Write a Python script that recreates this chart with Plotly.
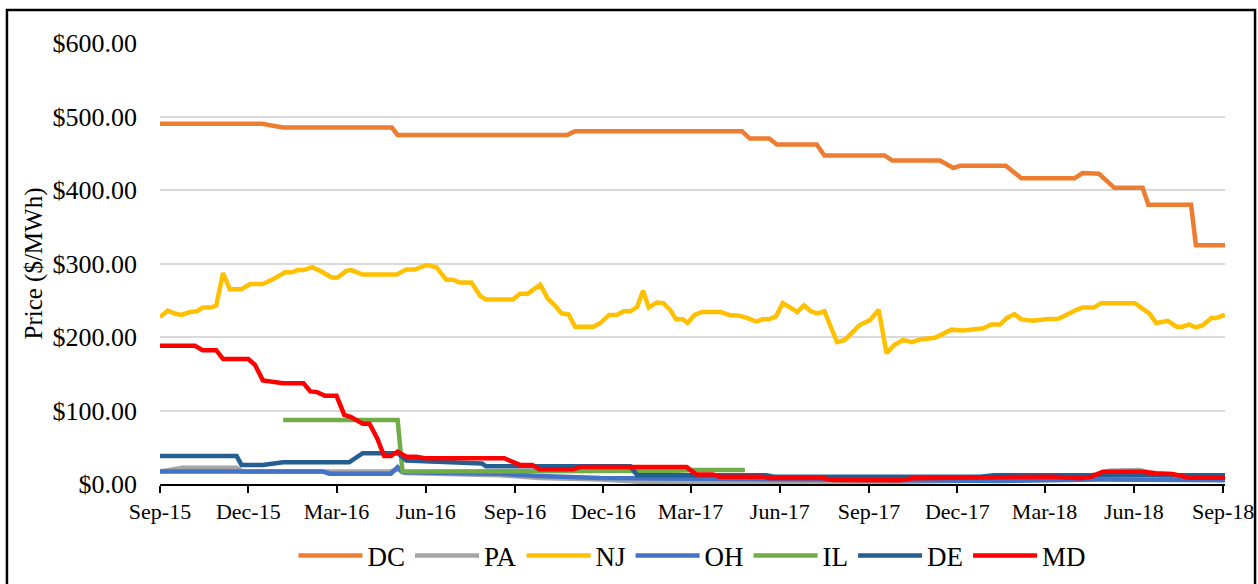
#!/usr/bin/env python3
'''
srec_prices.py
'''

import plotly.graph_objs as go


# DC
dc_dates = ['2015-09-01', '2015-12-15', '2016-01-06', '2016-04-27', '2016-05-03',
            '2016-10-25', '2016-11-02', '2017-04-23', '2017-05-01', '2017-05-21',
            '2017-05-29', '2017-07-09', '2017-07-17', '2017-09-17', '2017-09-25',
            '2017-11-13', '2017-11-27', '2017-12-04', '2018-01-20', '2018-02-05',
            '2018-04-01', '2018-04-09', '2018-04-26', '2018-05-12', '2018-06-10',
            '2018-06-16', '2018-07-30', '2018-08-04', '2018-09-03']
dc_values = [490, 490, 485, 485, 475,
             475, 480, 480, 470, 470,
             462, 462, 447, 447, 440,
             440, 430, 433, 433, 416,
             416, 423, 422, 403, 403,
             380, 380, 325, 325]

# PA
pa_dates = ['2015-09-01', '2015-09-24', '2015-11-19', '2015-11-25', '2016-04-25',
            '2016-05-03', '2016-05-11', '2016-08-16', '2016-09-26', '2016-11-28',
            '2017-01-08', '2017-05-11', '2017-10-03', '2018-01-14', '2018-04-06',
            '2018-05-07', '2018-06-07', '2018-06-27', '2018-09-03']
pa_values = [17, 22, 22, 17, 17,
             20, 15, 12, 8, 6,
             3, 3, 3, 5, 8,
             18, 19, 12, 10]

# NJ
nj_dates = ['2015-09-01', '2015-09-09', '2015-09-16', '2015-09-23', '2015-10-02',
            '2015-10-09', '2015-10-15', '2015-10-24', '2015-10-29', '2015-11-05',
            '2015-11-12', '2015-11-24', '2015-12-03', '2015-12-16', '2015-12-27',
            '2016-01-08', '2016-01-15', '2016-01-21', '2016-01-27', '2016-02-05',
            '2016-02-13', '2016-02-25', '2016-03-02', '2016-03-11', '2016-03-16',
            '2016-03-28', '2016-05-02', '2016-05-12', '2016-05-21', '2016-06-02',
            '2016-06-12', '2016-06-22', '2016-06-29', '2016-07-06', '2016-07-18',
            '2016-07-27', '2016-08-02', '2016-08-30', '2016-09-06', '2016-09-14',
            '2016-09-27', '2016-10-05', '2016-10-12', '2016-10-19', '2016-10-26',
            '2016-11-02', '2016-11-21', '2016-11-28', '2016-12-07', '2016-12-15',
            '2016-12-22', '2016-12-29', '2017-01-05', '2017-01-11', '2017-01-17',
            '2017-01-25', '2017-02-01', '2017-02-08', '2017-02-14', '2017-02-21',
            '2017-02-26', '2017-03-05', '2017-03-13', '2017-04-01', '2017-04-10',
            '2017-04-20', '2017-04-28', '2017-05-08', '2017-05-14', '2017-05-21',
            '2017-05-28', '2017-06-04', '2017-06-12', '2017-06-19', '2017-06-26',
            '2017-07-03', '2017-07-10', '2017-07-17', '2017-07-30', '2017-08-07',
            '2017-08-22', '2017-09-02', '2017-09-11', '2017-09-19', '2017-09-27',
            '2017-10-06', '2017-10-15', '2017-10-25', '2017-11-08', '2017-11-25',
            '2017-12-07', '2017-12-18', '2017-12-28', '2018-01-05', '2018-01-14',
            '2018-01-21', '2018-01-29', '2018-02-05', '2018-02-17', '2018-03-02',
            '2018-03-16', '2018-04-03', '2018-04-09', '2018-04-21', '2018-04-28',
            '2018-06-02', '2018-06-08', '2018-06-17', '2018-06-24', '2018-07-06',
            '2018-07-15', '2018-07-21', '2018-07-28', '2018-08-04', '2018-08-11',
            '2018-08-20', '2018-08-25', '2018-09-03']
nj_values = [227, 236, 232, 230, 234,
             235, 240, 240, 243, 287,
             265, 265, 272, 272, 279,
             288, 288, 291, 291, 295,
             290, 281, 281, 290, 291,
             285, 285, 292, 292, 298,
             295, 278, 278, 274, 274,
             256, 251, 251, 259, 259,
             271, 252, 243, 232, 231,
             214, 214, 219, 230, 230,
             235, 235, 241, 263, 240,
             247, 246, 237, 224, 224,
             219, 230, 234, 234, 230,
             229, 226, 221, 224, 224,
             228, 246, 240, 234, 243,
             235, 232, 235, 193, 196,
             216, 223, 237, 178, 189,
             196, 193, 197, 199, 210,
             209, 210, 212, 217, 217,
             226, 231, 224, 222, 224,
             225, 237, 240, 240, 246,
             246, 241, 232, 219, 222,
             214, 214, 217, 213, 216,
             226, 226, 230]

# OH
oh_dates = ['2015-09-01', '2016-02-16', '2016-02-23', '2016-04-26', '2016-05-03',
            '2016-05-08', '2016-08-16', '2016-09-26', '2016-11-28', '2017-03-10',
            '2017-06-21', '2018-01-14', '2018-04-26', '2018-09-03']
oh_values = [17, 17, 14, 14, 23,
             16, 14, 11, 8, 7,
             5, 4, 6, 5]

# IL
il_dates = ['2016-01-06', '2016-05-03', '2016-05-08', '2016-09-15', '2017-02-15',
            '2017-03-05', '2017-04-26']
il_values = [87, 87, 17, 17, 18,
             19, 19]

# DE
de_dates = ['2015-09-01', '2015-11-19', '2015-11-24', '2015-12-16', '2016-01-06',
            '2016-03-14', '2016-03-28', '2016-05-03', '2016-05-12', '2016-07-29',
            '2016-08-02', '2016-12-29', '2017-01-05', '2017-05-18', '2017-05-26',
            '2017-12-24', '2018-01-08', '2018-09-03']
de_values = [38, 38, 26, 26, 29.5,
             29.5, 42, 42, 32, 28,
             24, 24, 12, 12, 10,
             10, 12, 12]

# MD
md_dates = ['2015-09-01', '2015-10-07', '2015-10-15', '2015-10-29', '2015-11-05',
            '2015-12-01', '2015-12-08', '2015-12-16', '2016-01-06', '2016-01-27',
            '2016-02-03', '2016-02-10', '2016-02-18', '2016-03-01', '2016-03-09',
            '2016-03-16', '2016-03-28', '2016-04-04', '2016-04-12', '2016-04-19',
            '2016-04-26', '2016-05-03', '2016-05-12', '2016-05-22', '2016-05-31',
            '2016-08-16', '2016-08-21', '2016-09-06', '2016-09-19', '2016-09-26',
            '2016-10-31', '2016-11-07', '2017-02-25', '2017-03-07', '2017-03-24',
            '2017-03-31', '2017-05-14', '2017-05-21', '2017-07-15', '2017-07-26',
            '2017-10-03', '2017-10-16', '2017-12-24', '2018-01-04', '2018-03-09',
            '2018-04-06', '2018-04-19', '2018-04-30', '2018-06-10', '2018-06-24',
            '2018-07-11', '2018-07-28', '2018-09-03']
md_values = [188, 188, 182, 182, 170,
             170, 162, 141, 137, 137,
             126, 125, 120, 120, 94,
             91, 82, 82, 62, 38,
             38, 44, 37, 37, 35,
             35, 35, 26, 26, 20,
             20, 23, 23, 13, 13,
             10, 10, 8, 8, 5.5,
             5, 7.7, 8.6, 10, 10,
             8, 10, 16.7, 16.7, 14.5,
             13.6, 8.6, 8.6]

tick_dates = ['2015-09-01', '2015-12-01', '2016-03-01', '2016-06-01', '2016-09-01',
              '2016-12-01', '2017-03-01', '2017-06-01', '2017-09-01', '2017-12-01',
              '2018-03-01', '2018-06-01', '2018-09-01']
tick_labels = ['Sep-15', 'Dec-15', 'Mar-16', 'Jun-16', 'Sep-16',
               'Dec-16', 'Mar-17', 'Jun-17', 'Sep-17', 'Dec-17',
               'Mar-18', 'Jun-18', 'Sep-18']

y_ticks = [0, 100, 200, 300, 400, 500, 600]
y_labels = ['$0.00', '$100.00', '$200.00', '$300.00', '$400.00', '$500.00', '$600.00']

SERIES = [
    ('DC', dc_dates, dc_values, '#ED7D31'),
    ('PA', pa_dates, pa_values, '#A5A5A5'),
    ('NJ', nj_dates, nj_values, '#FFC000'),
    ('OH', oh_dates, oh_values, '#4472C4'),
    ('IL', il_dates, il_values, '#70AD47'),
    ('DE', de_dates, de_values, '#255E91'),
    ('MD', md_dates, md_values, '#FF0000'),
]

FONT = 'Liberation Serif, Times New Roman, serif'


def build_traces():
    data = []
    for name, dates, values, color in SERIES:
        data.append(go.Scatter(
            x=dates,
            y=values,
            name=name,
            mode='lines',
            line=dict(color=color, width=4.5)
        ))
    return data


def plot(data):
    layout = go.Layout(
        width=1258,
        height=584,
        paper_bgcolor='white',
        plot_bgcolor='white',
        margin=dict(l=160, r=33, t=43, b=100, autoexpand=False),
        font=dict(family=FONT, color='black'),
        showlegend=True,
        legend=dict(
            orientation='h',
            x=0.5,
            xanchor='center',
            y=-0.163,
            yanchor='middle',
            font=dict(size=27, family=FONT),
            itemwidth=64
        ),
        xaxis=dict(
            type='date',
            range=['2015-09-01', '2018-09-03'],
            tickmode='array',
            tickvals=tick_dates,
            ticktext=tick_labels,
            tickfont=dict(size=22, family=FONT),
            ticks='outside',
            ticklen=7,
            tickwidth=1.5,
            tickcolor='black',
            showline=True,
            linecolor='black',
            linewidth=1.5,
            showgrid=False,
            zeroline=False,
            automargin=False
        ),
        yaxis=dict(
            range=[0, 600],
            tickmode='array',
            tickvals=y_ticks,
            ticktext=y_labels,
            tickfont=dict(size=26, family=FONT),
            ticks='',
            ticklabelstandoff=22,
            showgrid=True,
            gridcolor='#D9D9D9',
            gridwidth=1.5,
            zeroline=False,
            showline=False,
            automargin=False,
            title=dict(text='Price ($/MWh)', font=dict(size=25, family=FONT), standoff=2)
        ),
        shapes=[dict(
            type='rect',
            xref='paper', yref='paper',
            x0=-0.1437, x1=1.0282, y0=-0.5, y1=1.0748,
            line=dict(color='black', width=2.5),
            fillcolor='rgba(0,0,0,0)',
            layer='below'
        )]
    )

    fig = go.Figure(data=data, layout=layout)
    # drop the default body margin so the figure fills the window exactly
    fig.write_html('out.html',
                   config={'displayModeBar': False},
                   post_script="document.body.style.margin='0';"
                               "document.body.style.overflow='hidden';")


if __name__ == '__main__':
    plot(build_traces())
